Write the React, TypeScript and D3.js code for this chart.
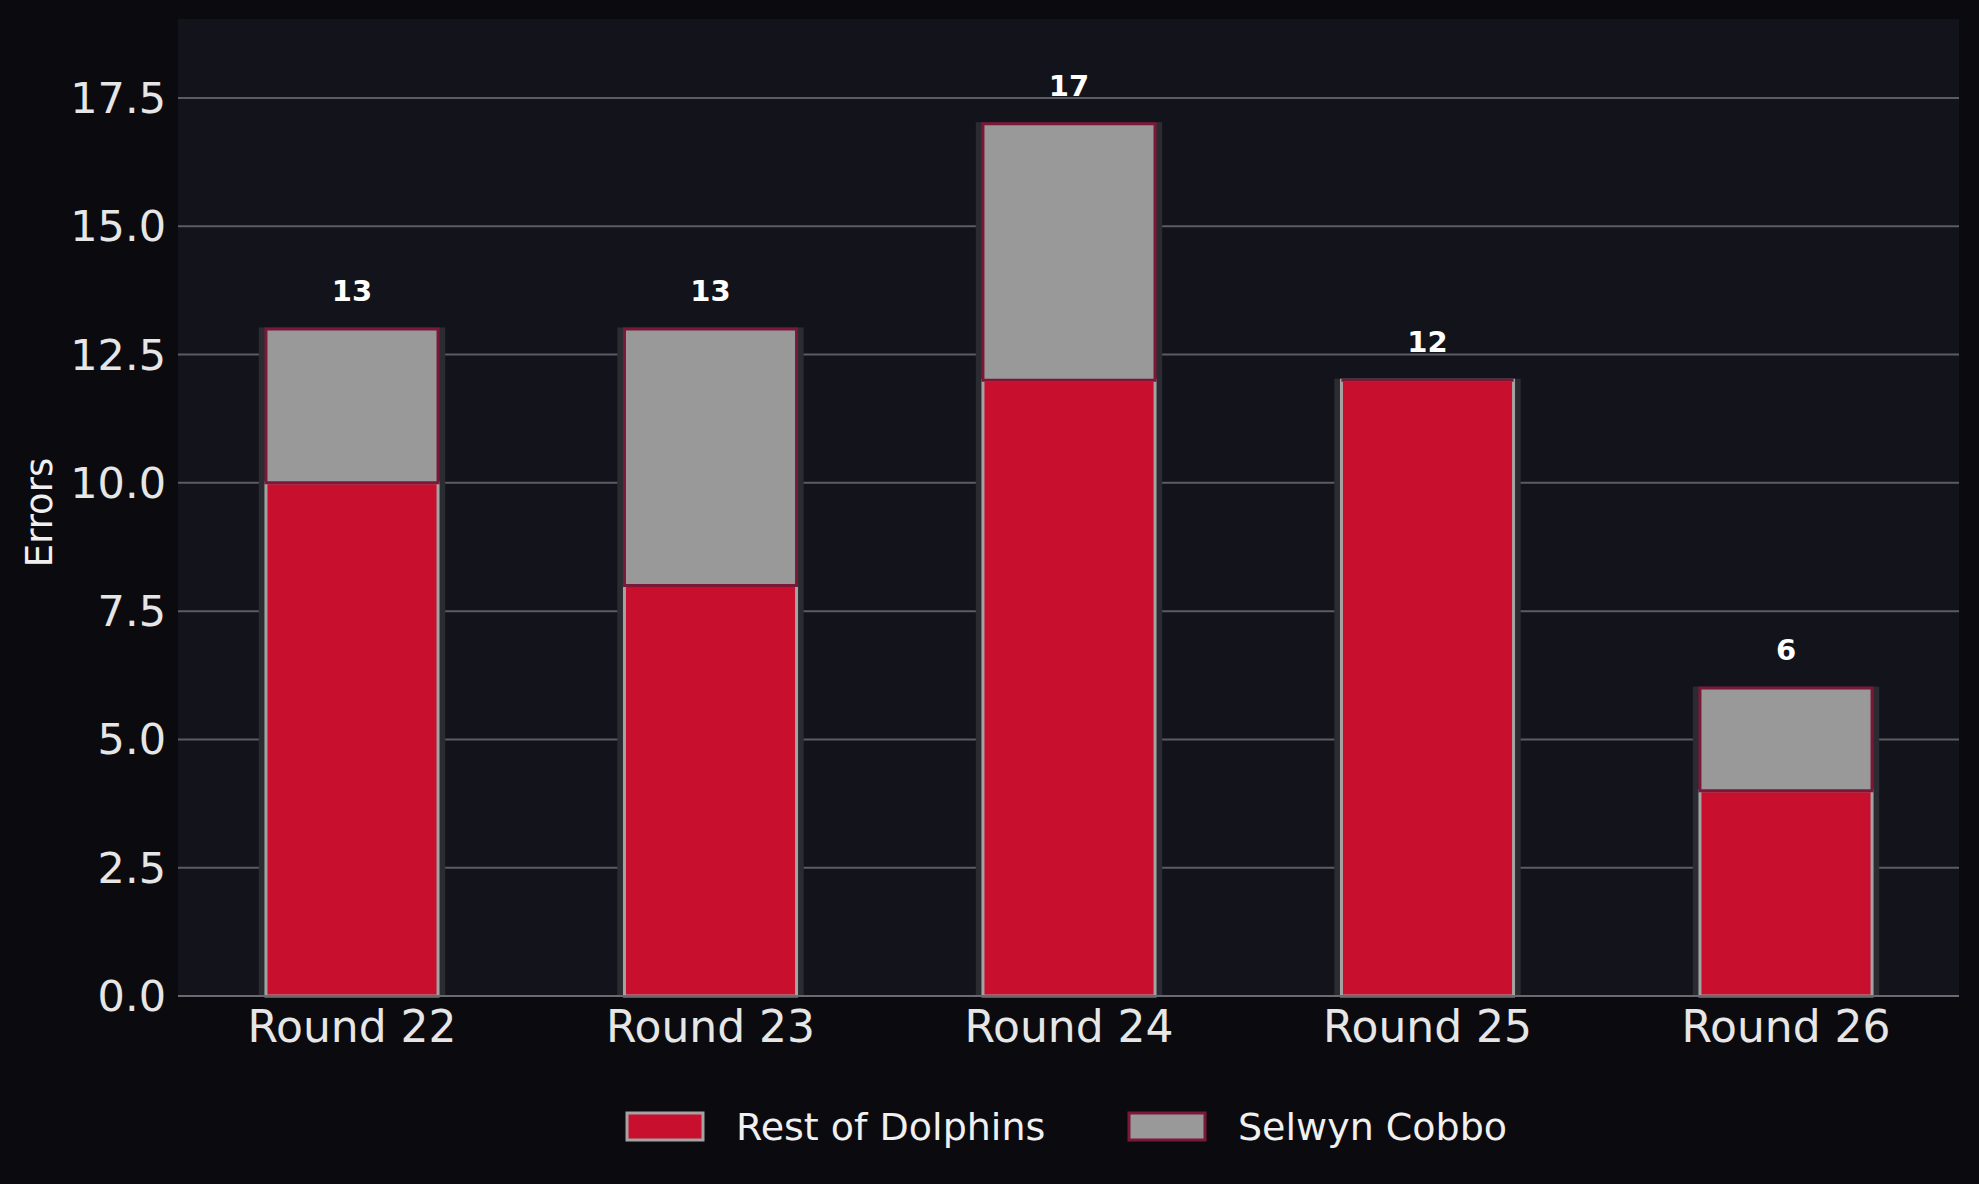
import * as d3 from "d3";

const rounds = ["Round 22", "Round 23", "Round 24", "Round 25", "Round 26"];
const restOfDolphins = [10, 8, 12, 12, 4];
const selwynCobbo = [3, 5, 5, 0, 2];
const yTicks = [0, 2.5, 5, 7.5, 10, 12.5, 15, 17.5];

const W = 1979;
const H = 1184;
const plot = { left: 178, right: 1959, top: 19, bottom: 996 };

const RED = "#c8102e";
const GRAY = "#999999";
const FONT = "DejaVu Sans, sans-serif";

function rectPath(x0: number, y0: number, w: number, h: number) {
  const p = d3.path();
  p.rect(x0, y0, w, h);
  return p.toString();
}

export default function App() {
  const totals = rounds.map((_, i) => restOfDolphins[i] + selwynCobbo[i]);
  const maxTotal = d3.max(totals) ?? 0;

  const x = d3
    .scaleLinear()
    .domain([0, rounds.length - 1])
    .range([352, 1786]);
  const step = x(1) - x(0);

  const y = d3
    .scaleLinear()
    .domain([0, maxTotal * 1.12])
    .range([plot.bottom, plot.top]);

  const fmt = d3.format(".1f");

  return (
    <div style={{ position: "absolute", left: 0, top: 0 }}>
      <svg width={W} height={H} style={{ display: "block" }} fontFamily={FONT}>
        <rect width={W} height={H} fill="#0b0b0f" />
        <rect
          x={plot.left}
          y={plot.top}
          width={plot.right - plot.left}
          height={plot.bottom - plot.top}
          fill="#12131b"
        />

        {/* grid + y ticks */}
        {yTicks.map((t) => (
          <g key={t}>
            {t > 0 && (
              <line
                x1={plot.left}
                x2={plot.right}
                y1={y(t)}
                y2={y(t)}
                stroke="#5c5c62"
                strokeWidth={2}
              />
            )}
            <text
              x={166}
              y={y(t)}
              textAnchor="end"
              dominantBaseline="central"
              fontSize={43}
              fill="#e6e6e6"
            >
              {fmt(t)}
            </text>
          </g>
        ))}

        {/* shadows */}
        {rounds.map((r, i) => (
          <rect
            key={r + "-shadow"}
            x={x(i) - step * 0.26}
            y={y(totals[i]) - 1.5}
            width={step * 0.52}
            height={y(0) - y(totals[i]) + 1.5}
            fill="#2b2c32"
          />
        ))}

        {/* stacked bars */}
        {rounds.map((r, i) => (
          <g key={r}>
            <path
              d={rectPath(
                x(i) - step * 0.24,
                y(restOfDolphins[i]),
                step * 0.48,
                y(0) - y(restOfDolphins[i])
              )}
              fill={RED}
              stroke="#a3a3a3"
              strokeWidth={3}
            />
            <path
              d={rectPath(
                x(i) - step * 0.24,
                y(totals[i]),
                step * 0.48,
                y(restOfDolphins[i]) - y(totals[i])
              )}
              fill={GRAY}
              stroke="#7b1838"
              strokeWidth={3}
            />
            <text
              x={x(i)}
              y={y(totals[i]) - 28}
              textAnchor="middle"
              fontSize={29}
              fontWeight="bold"
              fill="#ffffff"
            >
              {totals[i]}
            </text>
            <text
              x={x(i)}
              y={1042}
              textAnchor="middle"
              fontSize={44}
              fill="#e6e6e6"
            >
              {r}
            </text>
          </g>
        ))}

        {/* x axis line */}
        <line
          x1={plot.left}
          x2={plot.right}
          y1={plot.bottom}
          y2={plot.bottom}
          stroke="#6a6a70"
          strokeWidth={2}
        />

        {/* y label */}
        <text
          transform={`translate(52,${(plot.top + plot.bottom) / 2 + 5}) rotate(-90)`}
          textAnchor="middle"
          fontSize={37}
          fill="#f0f0f0"
        >
          Errors
        </text>

        {/* legend */}
        <g>
          <rect x={627} y={1113} width={76} height={27} fill={RED} stroke="#a3a3a3" strokeWidth={3} />
          <text x={736} y={1140} fontSize={38} fill="#f0f0f0">
            Rest of Dolphins
          </text>
          <rect x={1129} y={1113} width={76} height={27} fill={GRAY} stroke="#7b1838" strokeWidth={3} />
          <text x={1238} y={1140} fontSize={38} fill="#f0f0f0">
            Selwyn Cobbo
          </text>
        </g>
      </svg>
    </div>
  );
}
